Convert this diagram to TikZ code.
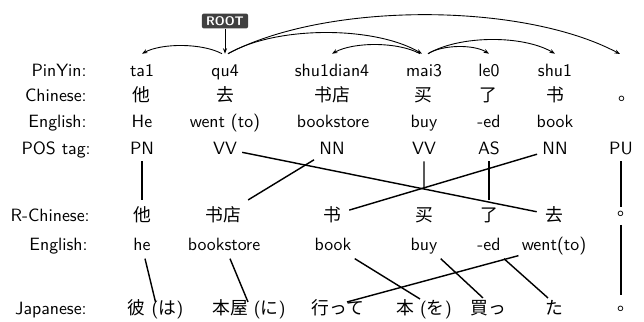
\documentclass[tikz,border=0pt]{standalone}
\usepackage{fontspec}
\newfontfamily\zh{Noto Sans CJK SC}
\newfontfamily\ja{Noto Sans CJK JP}
\usetikzlibrary{arrows.meta,calc}
\begin{document}
\begin{tikzpicture}[x=0.5618pt,y=-0.5618pt,
  every node/.style={font=\sffamily\fontsize{10}{12}\selectfont, text=black},
  lab/.style={anchor=base east, inner sep=0pt},
  pyw/.style={anchor=base, text height=7pt, text depth=0pt, inner xsep=1pt, inner ysep=5.6pt},
  zhw/.style={anchor=base, inner sep=1pt, font=\fontsize{10}{12}\selectfont\zh},
  enw/.style={anchor=base, inner sep=1pt},
  posw/.style={anchor=base, text height=6.9pt, text depth=0pt, inner xsep=2.8pt, inner ysep=3.4pt},
  rcw/.style={anchor=base, text height=8.8pt, text depth=1.2pt, inner xsep=4.5pt, inner ysep=3.4pt, font=\fontsize{10}{12}\selectfont\zh},
  ebw/.style={anchor=base, text height=7pt, text depth=2.4pt, inner sep=1.7pt},
  jpw/.style={anchor=base, text height=8.8pt, text depth=1.2pt, inner sep=0pt},
  stopw/.style={anchor=base west, inner sep=0pt},
  arcedge/.style={line width=0.5pt, -{Stealth[length=3.1pt,width=2.3pt]}},
  linkline/.style={line width=0.8pt},
  rootbox/.style={fill=black!75, text=white, rounded corners=1.2pt, font=\sffamily\bfseries\fontsize{7}{8}\selectfont, inner xsep=2.4pt, inner ysep=0pt, minimum height=8.4pt, text height=5pt, text depth=0pt}
]
\path[use as bounding box] (0,0) rectangle (644,322);

% row labels
\node[lab] (lpy) at (87,76.5) {PinYin:};
\node[lab] (lzh) at (87,102) {Chinese:};
\node[lab] (len) at (87,128) {English:};
\node[lab] (lpos) at (91,155) {POS tag:};
\node[lab] (lrc) at (90,222) {R-Chinese:};
\node[lab] (leb) at (88,251) {English:};
\node[lab] (ljp) at (87,315) {Japanese:};

% pinyin
\node[pyw] (p1) at (142,76.5) {ta1};
\node[pyw] (p2) at (225,76.5) {qu4};
\node[pyw] (p3) at (332,76.5) {shu1dian4};
\node[pyw] (p4) at (424,76.5) {mai3};
\node[pyw] (p5) at (489,76.5) {le0};
\node[pyw] (p6) at (555,76.5) {shu1};
\coordinate (p7) at (620,54);

% chinese
\node[zhw] (zh1) at (141,102) {他};
\node[zhw] (zh2) at (225,102) {去};
\node[zhw] (zh3) at (332,102) {书店};
\node[zhw] (zh4) at (423,102) {买};
\node[zhw] (zh5) at (488,102) {了};
\node[zhw] (zh6) at (555,102) {书};
\node[stopw, font=\fontsize{10}{12}\selectfont\zh] (zh7) at (618.4,101) {。};

% english
\node[enw] (en1) at (142,128) {He};
\node[enw] (en2) at (225,128) {went (to)};
\node[enw] (en3) at (333,128) {bookstore};
\node[enw] (en4) at (424,128) {buy};
\node[enw] (en5) at (489,128) {-ed};
\node[enw] (en6) at (555,128) {book};

% POS
\node[posw] (pos1) at (142,155) {PN};
\node[posw] (pos2) at (225,155) {VV};
\node[posw] (pos3) at (332,155) {NN};
\node[posw] (pos4) at (424,155) {VV};
\node[posw] (pos5) at (489,155) {AS};
\node[posw] (pos6) at (555,155) {NN};
\node[posw] (pos7) at (621,155) {PU};

% reordered chinese
\node[rcw] (rc1) at (142,222) {他};
\node[rcw] (rc2) at (223,222) {书店};
\node[rcw] (rc3) at (332,222) {书};
\node[rcw] (rc4) at (424,222) {买};
\node[rcw] (rc5) at (489,222) {了};
\node[rcw] (rc6) at (554,222) {去};
\node[stopw, font=\fontsize{10}{12}\selectfont\zh] (rc7) at (617.4,215.9) {。};

% english 2
\node[ebw] (eb1) at (142,251) {he};
\node[ebw] (eb2) at (224,251) {bookstore};
\node[ebw] (eb3) at (333,251) {book};
\node[ebw] (eb4) at (424,251) {buy};
\node[ebw] (eb5) at (489,251) {-ed};
\node[ebw] (eb6) at (554,251) {went(to)};

% japanese
\node[jpw] (jp1) at (155.5,315) {{\ja 彼} ({\ja は})};
\node[jpw] (jp2) at (249,315) {{\ja 本屋} ({\ja に})};
\node[jpw] (jp3) at (338,315) {{\ja 行って}};
\node[jpw] (jp4) at (424,315) {{\ja 本} ({\ja を})};
\node[jpw] (jp5) at (488,315) {{\ja 買っ}};
\node[jpw] (jp6) at (554,315) {{\ja た}};
\node[stopw, font=\fontsize{10}{12}\selectfont\ja] (jp7) at (617.4,310.9) {。};

% ROOT
\node[rootbox] (root) at (225,21) {ROOT};

% dependency arcs
\draw[arcedge] (root.south) -- (p2.north);
\draw[arcedge] ($(p2.north)+(-3,0)$) .. controls +(-20,-10.7) and +(20,-10.7) .. (p1.north);
\draw[arcedge] ($(p2.north)+(3,0)$) .. controls +(48,-28) and +(-48,-28) .. ($(p4.north)+(-2,0)$);
\draw[arcedge] ($(p2.north)+(3,0)$) .. controls +(98,-52) and +(-98,-52) .. (p7);
\draw[arcedge] ($(p4.north)+(-4,0)$) .. controls +(-22,-12) and +(22,-12) .. (p3.north);
\draw[arcedge] ($(p4.north)+(4,0)$) .. controls +(15,-9.3) and +(-15,-9.3) .. (p5.north);
\draw[arcedge] ($(p4.north)+(4,0)$) .. controls +(32,-18.7) and +(-32,-18.7) .. (p6.north);

% POS -> reordered Chinese
\draw[linkline] (pos1) -- (rc1);
\draw[linkline] (pos2) -- (rc6);
\draw[linkline] (pos3) -- (rc2);
\draw[linkline] (pos6) -- (rc3);
\coordinate (cross) at (intersection of pos2.center--rc6.center and pos4.center--rc4.center);
\draw[linkline] (pos4) -- (cross);
\draw[linkline] (pos5) -- (rc5);
\coordinate (rc7t) at (621,207);
\coordinate (rc7b) at (621,225);
\coordinate (jp7t) at (621,295);
\draw[linkline] (pos7) -- (rc7t);
\draw[linkline] (rc7b) -- (jp7t);

% English -> Japanese
\draw[linkline] ($(eb1.south)+(3,0)$) -- ($(jp1.north)+(0,3)$);
\draw[linkline] ($(eb2.south)+(6,0)$) -- ($(jp2.north)+(-1,3)$);
\draw[linkline] (eb3.south east) -- ($(jp4.north)+(-4,0)$);
\draw[linkline] (eb4.south east) -- ($(jp5.north)+(-5,-1)$);
\draw[linkline] (eb5.south east) -- ($(jp6.north)+(-6,-1)$);
\draw[linkline] ($(eb6.south west)+(0,-3)$) -- ($(jp3.north)+(9,3)$);
\end{tikzpicture}
\end{document}
